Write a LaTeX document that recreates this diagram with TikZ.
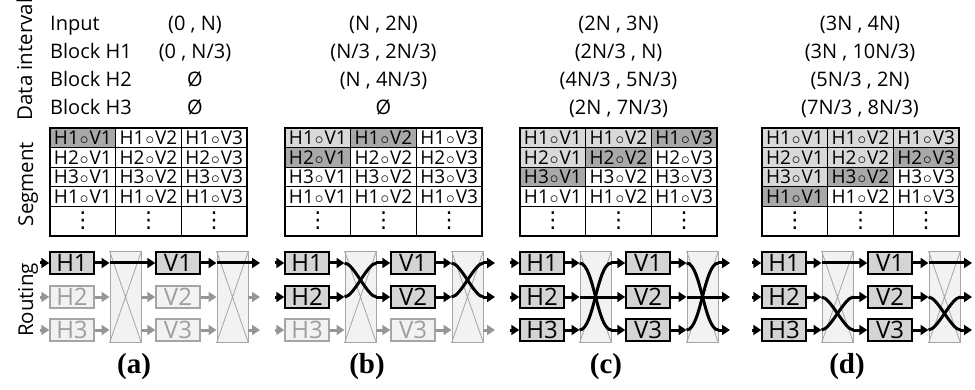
\documentclass[tikz,border=0pt]{standalone}
\usepackage{fontspec}
\setmainfont{Open Sans}
\newfontfamily\capfont{Liberation Serif}
\newfontfamily\dotfont{DejaVu Sans}
\usetikzlibrary{arrows.meta,positioning}
\definecolor{boxgray}{RGB}{212,212,212}
\definecolor{cellone}{RGB}{217,217,217}
\definecolor{celltwo}{RGB}{168,168,168}
\definecolor{offfill}{RGB}{242,242,242}
\definecolor{offedge}{RGB}{165,165,165}
\definecolor{offtext}{RGB}{158,158,158}
\definecolor{offline}{RGB}{150,150,150}

\tikzset{
  sidelabel/.style={rotate=90,anchor=base,inner sep=0pt,font=\fontsize{20.5}{20.5}\selectfont},
  headtext/.style={anchor=base west,inner sep=0pt,font=\fontsize{20}{20}\selectfont},
  valtext/.style={anchor=base,inner sep=0pt,font=\fontsize{20}{20}\selectfont},
  celltext/.style={inner sep=0pt,font=\fontsize{19}{19}\selectfont},
  dottext/.style={inner sep=0pt,font=\dotfont\fontsize{22}{22}\selectfont},
  hvon/.style={draw=black,fill=boxgray,line width=1.4pt,minimum width=44pt,minimum height=22pt,
    inner sep=0pt,font=\fontsize{24}{24}\selectfont},
  hvoff/.style={hvon,draw=offedge,fill=offfill,text=offtext},
  xbar/.style={draw=offedge,fill=offfill,line width=0.9pt,minimum width=31pt,minimum height=91pt,inner sep=0pt},
  xcross/.style={offedge,line width=0.8pt},
  onarrow/.style={line width=3pt,-{Triangle[length=8pt,width=10pt]}},
  offarrow/.style={onarrow,offline},
  online/.style={line width=3pt},
  caption/.style={inner sep=0pt,font=\capfont\bfseries\fontsize{29}{29}\selectfont}
}

\begin{document}
\begin{tikzpicture}[x=1pt,y=-1pt]
  \useasboundingbox (0,0) rectangle (975,390);

  % side labels
  \node[sidelabel] (lbldata) at (32,59.5) {Data interval};
  \node[sidelabel] (lblseg) at (33,184) {Segment};
  \node[sidelabel] (lblrout) at (33,300) {Routing};

  % data intervals
  \node[headtext] (rowin) at (50,31) {Input};
  \node[headtext] (rowh1) at (50,59) {Block H1};
  \node[headtext] (rowh2) at (50,87) {Block H2};
  \node[headtext] (rowh3) at (50,115) {Block H3};

  \node[valtext] (ina) at (195,31) {(0 , N)};
  \node[valtext] (h1a) at (195,59) {(0 , N/3)};
  \node[valtext] (h2a) at (195,87) {Ø};
  \node[valtext] (h3a) at (195,115) {Ø};

  \node[valtext] (inb) at (383.5,31) {(N , 2N)};
  \node[valtext] (h1b) at (383.5,59) {(N/3 , 2N/3)};
  \node[valtext] (h2b) at (383.5,87) {(N , 4N/3)};
  \node[valtext] (h3b) at (383.5,115) {Ø};

  \node[valtext] (inc) at (618.5,31) {(2N , 3N)};
  \node[valtext] (h1c) at (618.5,59) {(2N/3 , N)};
  \node[valtext] (h2c) at (618.5,87) {(4N/3 , 5N/3)};
  \node[valtext] (h3c) at (618.5,115) {(2N , 7N/3)};

  \node[valtext] (ind) at (860,31) {(3N , 4N)};
  \node[valtext] (h1d) at (860,59) {(3N , 10N/3)};
  \node[valtext] (h2d) at (860,87) {(5N/3 , 2N)};
  \node[valtext] (h3d) at (860,115) {(7N/3 , 8N/3)};

  % segment tables: shaded cells first
  \foreach \X/\r/\c/\tone in {50/1/1/celltwo,
      285/1/1/cellone,285/1/2/celltwo,285/2/1/celltwo,
      520/1/1/cellone,520/1/2/cellone,520/2/1/cellone,520/1/3/celltwo,520/2/2/celltwo,520/3/1/celltwo,
      762/1/1/cellone,762/1/2/cellone,762/1/3/cellone,762/2/1/cellone,762/2/2/cellone,762/3/1/cellone,
      762/2/3/celltwo,762/3/2/celltwo,762/4/1/celltwo}
    \fill[\tone] (\X+\c*65.67-65.67,108.5+\r*19.5) rectangle +(65.67,19.5);

  \foreach \p/\X in {a/50,b/285,c/520,d/762} {
    \foreach \yy in {147.5,167,186.5,206}
      \draw[line width=0.8pt] (\X,\yy) -- ++(197,0);
    \draw[line width=0.8pt] (\X+65.67,128) -- ++(0,108) (\X+131.33,128) -- ++(0,108);
    \draw[line width=2pt] (\X,128) rectangle (\X+197,236);
    \foreach \r/\h in {1/1,2/2,3/3,4/1}
      \foreach \c in {1,2,3}
        \node[celltext] (s\p\r\c) at (\X+\c*65.67-32.83,118.25+\r*19.5) {H\h\kern1pt$\circ$\kern1pt V\c};
    \foreach \c in {1,2,3}
      \node[dottext] (dots\p\c) at (\X+\c*65.67-32.83,221) {⋮};
  }

  % routing through the two crossbars
  \foreach \p/\X/\n/\pa/\pb/\pc in {a/50/1/1/2/3,b/285/2/2/1/3,c/520/3/3/2/1,d/762/3/1/3/2} {
    \node[xbar] (xl\p) at (\X+75.5,297) {};
    \node[xbar] (xr\p) at (\X+182.5,297) {};
    \draw[xcross] (xl\p.north west) -- (xl\p.south east) (xl\p.north east) -- (xl\p.south west);
    \draw[xcross] (xr\p.north west) -- (xr\p.south east) (xr\p.north east) -- (xr\p.south west);
    \foreach \r/\y in {1/263,2/297,3/330} {
      \ifnum\r>\n
        \tikzset{curbox/.style={hvoff},curarrow/.style={offarrow}}
      \else
        \tikzset{curbox/.style={hvon},curarrow/.style={onarrow}}
      \fi
      \coordinate (in\p\r) at (\X-10,\y);
      \coordinate (out\p\r) at (\X+210,\y);
      \node[curbox] (H\p\r) at (\X+22,\y) {H\r};
      \node[curbox] (V\p\r) at (\X+128,\y) {V\r};
      \draw[curarrow] (in\p\r) -- (H\p\r);
      \draw[curarrow] (H\p\r) -- (xl\p.west |- H\p\r);
      \draw[curarrow] (xl\p.east |- V\p\r) -- (V\p\r);
      \draw[curarrow] (V\p\r) -- (xr\p.west |- V\p\r);
      \draw[curarrow] (xr\p.east |- V\p\r) -- (out\p\r);
    }
    \foreach \r/\s in {1/\pa,2/\pb,3/\pc} {
      \ifnum\r>\n\else
        \draw[online] (xl\p.west |- H\p\r) to[out=0,in=180,looseness=0.5] (xl\p.east |- H\p\s);
        \draw[online] (xr\p.west |- V\p\r) to[out=0,in=180,looseness=0.5] (xr\p.east |- V\p\s);
      \fi
    }
  }

  % captions
  \node[caption] (capa) at (134,367) {(a)};
  \node[caption] (capb) at (367,367) {(b)};
  \node[caption] (capc) at (606,367) {(c)};
  \node[caption] (capd) at (847,367) {(d)};
\end{tikzpicture}
\end{document}
